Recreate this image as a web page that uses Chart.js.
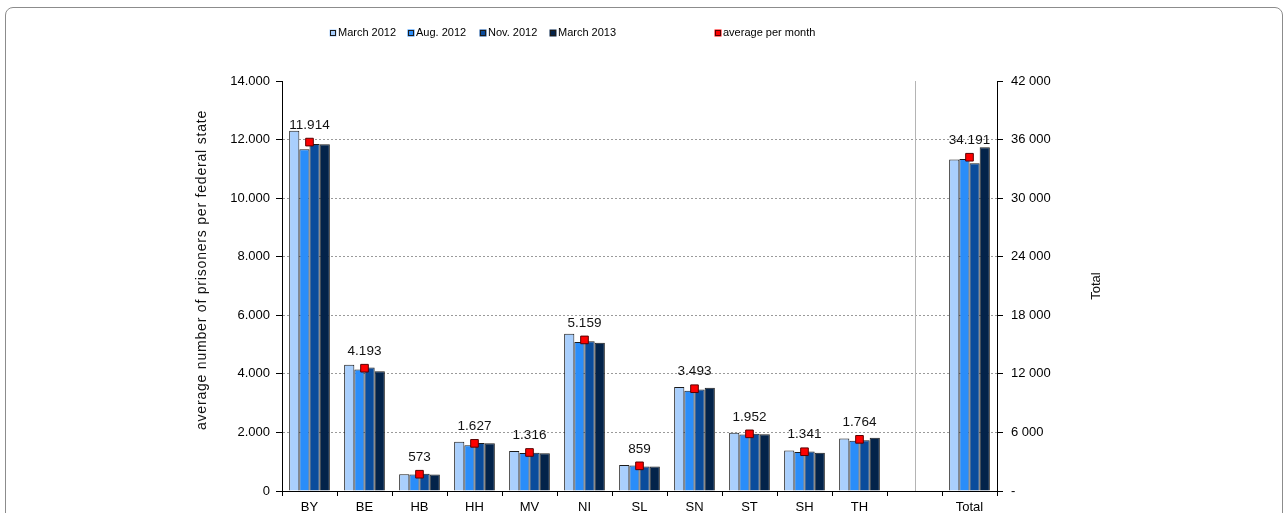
<!DOCTYPE html>
<html><head><meta charset="utf-8">
<script src="https://cdn.jsdelivr.net/npm/chart.js@4.4.0/dist/chart.umd.min.js"></script>
<style>
html,body{margin:0;padding:0;background:#fff;overflow:hidden}
#wrap{position:relative;width:1288px;height:513px}
#frame{position:absolute;left:5px;top:7px;width:1276px;height:530px;border:1px solid #8c8c8c;border-radius:8px;pointer-events:none}
canvas{position:absolute;left:0;top:0}
</style></head><body>
<div id="wrap"><canvas id="c" width="1288" height="513"></canvas><div id="frame"></div></div>
<script>
// ---- data ----
const categories = ['BY','BE','HB','HH','MV','NI','SL','SN','ST','SH','TH','','Total'];
const seriesNames = ['March 2012','Aug. 2012','Nov. 2012','March 2013'];
const march2012 = [12302, 4310, 575, 1680, 1370, 5370, 890, 3555, 1985, 1380, 1795];
const aug2012   = [11666, 4150, 560, 1560, 1300, 5085, 870, 3425, 1930, 1332, 1715];
const nov2012   = [11845, 4220, 590, 1640, 1310, 5115, 840, 3465, 1955, 1345, 1730];
const march2013 = [11843, 4092, 567, 1630, 1285, 5066, 836, 3527, 1938, 1307, 1816];
const totalBySeries = [33960, 34020, 33580, 35204];
const avgPerMonth = [11914, 4193, 573, 1627, 1316, 5159, 859, 3493, 1952, 1341, 1764];
const avgTotal = 34191;
const leftTicks = {min: 0, max: 14000, step: 2000};
const rightTicks = {min: 0, max: 42000, step: 6000};
const avgLabel = 'average per month';
const leftTitle = 'average number of prisoners per federal state';
const rightTitle = 'Total';

// ---- styles ----
const colors = ['#a9cffd', '#2a8df9', '#0a4c9c', '#03234a'];
const FONT = '"Liberation Sans", Arial, Helvetica, sans-serif';
const fmtDot = v => String(v).replace(/\B(?=(\d{3})+(?!\d))/g, '.');
const fmtSpace = v => v === 0 ? '-' : String(v).replace(/\B(?=(\d{3})+(?!\d))/g, ' ');

const stateData = arr => categories.map((c, i) => i < arr.length ? arr[i] : null);
const totalData = v => categories.map(c => c === 'Total' ? v : null);
const stateSeries = [march2012, aug2012, nov2012, march2013];

const datasets = [];
datasets.push({type:'line', label: avgLabel, data: stateData(avgPerMonth), yAxisID:'y',
  showLine:false, pointStyle:'rect', pointRadius:5.4, pointHoverRadius:5.4,
  backgroundColor:'#ff0000', borderColor:'#5a0000', borderWidth:1, order:-1});
datasets.push({type:'line', label: avgLabel, data: totalData(avgTotal), yAxisID:'y2', _dup:true,
  showLine:false, pointStyle:'rect', pointRadius:5.4, pointHoverRadius:5.4,
  backgroundColor:'#ff0000', borderColor:'#5a0000', borderWidth:1, order:-1});
stateSeries.forEach((arr, s) => {
  datasets.push({type:'bar', label: seriesNames[s], data: stateData(arr), yAxisID:'y',
    backgroundColor: colors[s], borderColor:'#1b1b1b', borderWidth:1,
    categoryPercentage:0.74, barPercentage:1.0, skipNull:true});
});
totalBySeries.forEach((v, s) => {
  datasets.push({type:'bar', label: seriesNames[s], data: totalData(v), yAxisID:'y2', _dup:true,
    backgroundColor: colors[s], borderColor:'#1b1b1b', borderWidth:1,
    categoryPercentage:0.74, barPercentage:1.0, skipNull:true});
});

// ---- plugins ----
const separatorPlugin = {
  id:'separator',
  beforeDatasetsDraw(chart){
    const x = chart.scales.x.getPixelForValue(categories.indexOf(''));
    const a = chart.chartArea, ctx = chart.ctx;
    ctx.save();
    ctx.strokeStyle = '#b4b4b4'; ctx.lineWidth = 1;
    ctx.beginPath(); ctx.moveTo(Math.round(x)+0.5, a.top); ctx.lineTo(Math.round(x)+0.5, a.bottom); ctx.stroke();
    ctx.restore();
  }
};
const avgLabelsPlugin = {
  id:'avgLabels',
  afterDatasetsDraw(chart){
    const ctx = chart.ctx;
    ctx.save();
    ctx.font = '13.5px ' + FONT;
    ctx.fillStyle = '#111';
    ctx.textAlign = 'center';
    ctx.textBaseline = 'middle';
    [0,1].forEach(di => {
      const meta = chart.getDatasetMeta(di);
      const ds = chart.data.datasets[di];
      meta.data.forEach((pt, i) => {
        const v = ds.data[i];
        if (v == null) return;
        ctx.fillText(fmtDot(v), pt.x, pt.y - 17);
      });
    });
    ctx.restore();
  }
};
const legendPositions = [330, 408, 480, 550, 715];
const customLegendPlugin = {
  id:'customLegend',
  afterDraw(chart){
    const ctx = chart.ctx;
    const items = chart.data.datasets.filter(d => !d._dup && d.type === 'bar')
      .map(d => ({text:d.label, fill:d.backgroundColor, stroke:'#1b1b1b'}));
    items.push({text: avgLabel, fill:'#ff0000', stroke:'#5a0000'});
    ctx.save();
    ctx.font = '11px ' + FONT;
    ctx.textBaseline = 'middle';
    ctx.textAlign = 'left';
    items.forEach((it, i) => {
      const x = legendPositions[i], y = 33;
      ctx.fillStyle = it.fill; ctx.fillRect(x-0.5, y-3.5, 7, 7);
      ctx.strokeStyle = it.stroke; ctx.lineWidth = 1; ctx.strokeRect(x+0.5, y-2.5, 5, 5);
      ctx.fillStyle = '#000'; ctx.fillText(it.text, x + 8, y);
    });
    ctx.restore();
  }
};
const axisTitlesPlugin = {
  id:'axisTitles',
  afterDraw(chart){
    const ctx = chart.ctx, a = chart.chartArea;
    ctx.save();
    ctx.fillStyle = '#111';
    ctx.textAlign = 'center'; ctx.textBaseline = 'middle';
    // left title
    ctx.save();
    ctx.font = '14px ' + FONT;
    if ('letterSpacing' in ctx) ctx.letterSpacing = '0.8px';
    ctx.translate(202, 270);
    ctx.rotate(-Math.PI/2);
    ctx.fillText(leftTitle, 0, 0);
    ctx.restore();
    // right title
    ctx.font = '13px ' + FONT;
    ctx.translate(1096, (a.top + a.bottom)/2);
    ctx.rotate(-Math.PI/2);
    ctx.fillText(rightTitle, 0, 0);
    ctx.restore();
  }
};

Chart.defaults.font.family = FONT;
Chart.defaults.color = '#000';

new Chart(document.getElementById('c'), {
  type:'bar',
  data:{labels: categories, datasets},
  options:{
    responsive:false, animation:false, devicePixelRatio:1,
    layout:{padding:{left:190, right:0, top:81, bottom:0}},
    plugins:{legend:{display:false}, tooltip:{enabled:false}},
    scales:{
      x:{stacked:false, offset:true,
        grid:{offset:true, drawOnChartArea:false, tickLength:5, tickColor:'#000'},
        border:{color:'#000', width:1},
        ticks:{font:{size:13}, padding:4, autoSkip:false, maxRotation:0},
        afterFit(s){ s.height = 22; }
      },
      y:{position:'left', stacked:false, min:leftTicks.min, max:leftTicks.max,
        ticks:{stepSize:leftTicks.step, font:{size:13}, padding:6, callback:v => fmtDot(v)},
        grid:{color: c => c.tick && c.tick.value === leftTicks.max ? 'rgba(0,0,0,0)' : '#9a9a9a',
          tickLength:6, tickColor:'#000', lineWidth:1},
        border:{color:'#000', width:1, dash:[2,2]},
        title:{display:false},
        afterFit(s){ s.width = 92; }
      },
      y2:{position:'right', stacked:false, min:rightTicks.min, max:rightTicks.max,
        ticks:{stepSize:rightTicks.step, font:{size:13}, padding:8, callback:v => fmtSpace(v)},
        grid:{drawOnChartArea:false, tickLength:6, tickColor:'#000'},
        border:{color:'#000', width:1},
        afterFit(s){ s.width = 291; }
      }
    }
  },
  plugins:[separatorPlugin, avgLabelsPlugin, customLegendPlugin, axisTitlesPlugin]
});
</script>
</body></html>
